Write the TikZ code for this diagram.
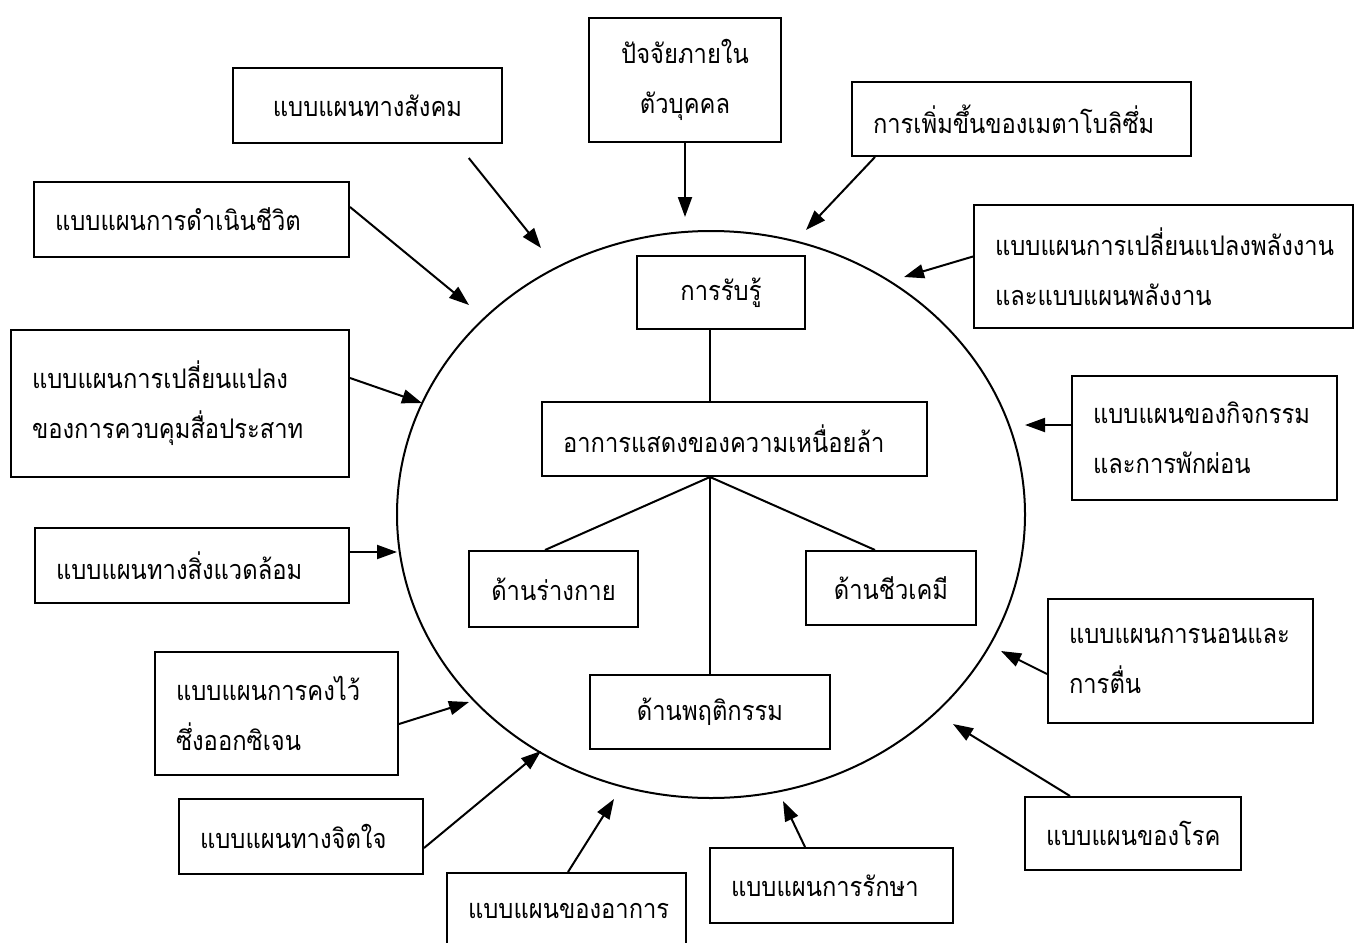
\documentclass[tikz,border=0pt]{standalone}
\usepackage{fontspec}
\newfontfamily\thai[Script=Thai, FakeStretch=0.88]{Loma}
\usetikzlibrary{arrows.meta,calc}

\tikzset{
  pat/.style={draw, line width=2pt, inner xsep=21pt, inner ysep=0pt, align=left,
    font=\thai\fontsize{27}{50}\selectfont},
  mid/.style={pat, align=center},
  arr/.style={line width=2pt, -{Triangle[length=20pt,width=14pt]}},
  link/.style={line width=2pt}
}

\begin{document}
\begin{tikzpicture}[x=1pt, y=-1pt]
\clip (0,0) rectangle (1354,942);
\fill[white] (0,0) rectangle (1354,942);
% Core circle
\draw[link] (711,514.5) ellipse [x radius=314pt, y radius=283.5pt];
% Inside the circle
\node[mid, text width=126pt, minimum height=73pt] (percep) at (721,292.5) {การรับรู้};
\node[pat, text width=343pt, minimum height=74pt] (symp) at (734.5,439) {อาการแสดงของความเหนื่อยล้า};
\node[mid, text width=127pt, minimum height=76pt] (phys) at (553.5,589) {ด้านร่างกาย};
\node[mid, text width=128pt, minimum height=74pt] (bio) at (891,588) {ด้านชีวเคมี};
\node[mid, text width=198pt, minimum height=74pt] (behav) at (710,712) {ด้านพฤติกรรม};
\draw[link] (percep.south -| behav.north) -- (symp.north -| behav.north);
\coordinate (fork) at (symp.south -| behav.north);
\draw[link] (fork) -- ($(phys.north west)+(77,0)$);
\draw[link] (fork) -- ($(bio.north west)+(70,0)$);
\draw[link] (fork) -- (behav.north);
% Patterns around
\node[mid, text width=227pt, minimum height=75pt] (social) at (367.5,105.5) {แบบแผนทางสังคม};
\node[mid, text width=150pt, minimum height=124pt] (inner) at (685,80) {ปัจจัยภายใน\\ตัวบุคคล};
\node[pat, text width=297pt, minimum height=74pt] (metab) at (1021.5,119) {การเพิ่มขึ้นของเมตาโบลิซึ่ม};
\node[pat, text width=337pt, minimum height=123pt] (energy) at (1163.5,266.5) {แบบแผนการเปลี่ยนแปลงพลังงาน\\และแบบแผนพลังงาน};
\node[pat, text width=223pt, minimum height=124pt] (activ) at (1204.5,438) {แบบแผนของกิจกรรม\\และการพักผ่อน};
\node[pat, text width=223pt, minimum height=124pt] (sleep) at (1180.5,661) {แบบแผนการนอนและ\\การตื่น};
\node[pat, text width=174pt, minimum height=73pt] (disease) at (1133,833.5) {แบบแผนของโรค};
\node[pat, text width=201pt, minimum height=75pt] (treat) at (831.5,885.5) {แบบแผนการรักษา};
\node[pat, text width=197pt, minimum height=76pt] (sympat) at (566.5,911) {แบบแผนของอาการ};
\node[pat, text width=202pt, minimum height=75pt] (psych) at (301,836.5) {แบบแผนทางจิตใจ};
\node[pat, text width=201pt, minimum height=123pt] (oxy) at (276.5,713.5) {แบบแผนการคงไว้\\ซึ่งออกซิเจน};
\node[pat, text width=272pt, minimum height=75pt] (env) at (192,565.5) {แบบแผนทางสิ่งแวดล้อม};
\node[pat, text width=296pt, minimum height=147pt] (neuro) at (180,403.5) {แบบแผนการเปลี่ยนแปลง\\ของการควบคุมสื่อประสาท};
\node[pat, text width=273pt, minimum height=75pt] (life) at (191.5,219.5) {แบบแผนการดำเนินชีวิต};
% Arrow tips near the circle
\coordinate (tSoc) at (541,248);
\coordinate (tInn) at (685,217);
\coordinate (tMet) at (806,230);
\coordinate (tEne) at (904,277);
\coordinate (tAct) at (1025,425);
\coordinate (tSlp) at (1001,651);
\coordinate (tDis) at (953,724);
\coordinate (tTrt) at (783,801);
\coordinate (tSym) at (614,799);
\coordinate (tPsy) at (541,751);
\coordinate (tOxy) at (469,702);
\coordinate (tEnv) at (397,552);
\coordinate (tNeu) at (422,403);
\coordinate (tLif) at (469,305);
% Arrows
\draw[arr, shorten <=18pt] ($(social.south)+(90,0)$) -- (tSoc);
\draw[arr] (inner.south) -- (tInn);
\draw[arr] ($(metab.south west)+(24,0)$) -- (tMet);
\draw[arr] ([yshift=10pt]energy.west) -- (tEne);
\draw[arr] ([yshift=13pt]activ.west) -- (tAct);
\draw[arr] ([yshift=-13pt]sleep.west) -- (tSlp);
\draw[arr] ($(disease.north west)+(46,0)$) -- (tDis);
\draw[arr] ($(treat.north west)+(96,0)$) -- (tTrt);
\draw[arr] ($(sympat.north west)+(122,0)$) -- (tSym);
\draw[arr] ([yshift=-11.5pt]psych.east) -- (tPsy);
\draw[arr] ([yshift=-10.5pt]oxy.east) -- (tOxy);
\draw[arr] ([yshift=13.5pt]env.east) -- (tEnv);
\draw[arr] ([yshift=25.5pt]neuro.east) -- (tNeu);
\draw[arr] ([yshift=12.5pt]life.east) -- (tLif);
\end{tikzpicture}
\end{document}
